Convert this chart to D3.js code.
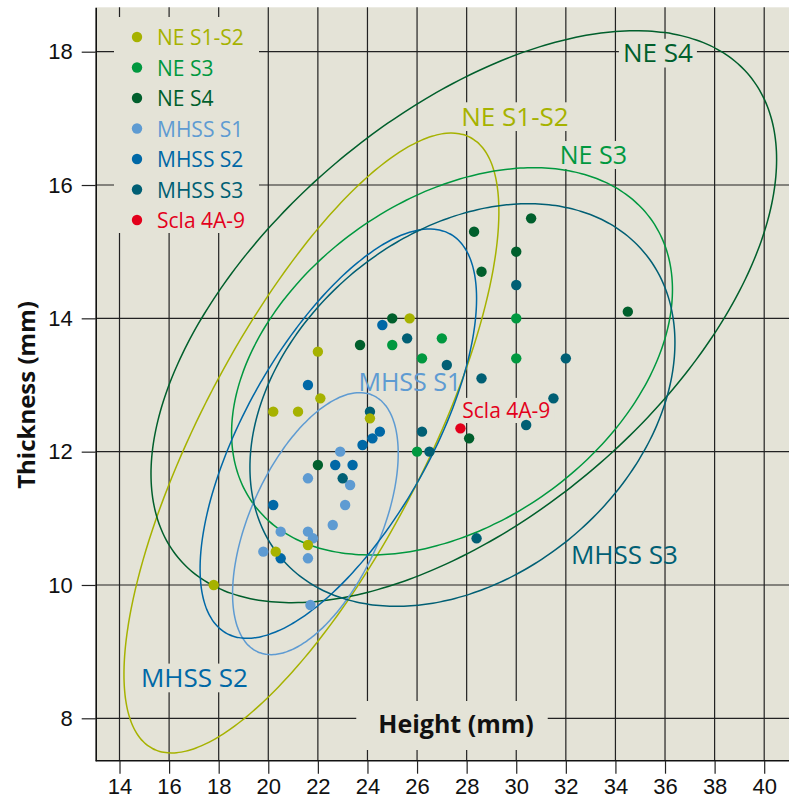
<!DOCTYPE html>
<html><head><meta charset="utf-8">
<script src="https://cdn.jsdelivr.net/npm/d3@7"></script>
<style>body{margin:0;background:#fff} svg{display:block}</style>
</head><body>
<svg id="c" width="794" height="798"></svg>
<script>
// ---------- data ----------
const xTicks = [14,16,18,20,22,24,26,28,30,32,34,36,38,40];
const yTicks = [8,10,12,14,16,18];

const seriesNames  = ["NE S1-S2","NE S3","NE S4","MHSS S1","MHSS S2","MHSS S3","Scla 4A-9"];
const seriesColors = ["#a6b200","#00983f","#005f2c","#5e9bd2","#0068a6","#005f74","#e3001b"];

const neS1S2 = [[17.8,10.0],[20.2,12.6],[21.2,12.6],[22.0,13.5],[22.1,12.8],[24.1,12.5],[25.7,14.0],[21.6,10.6],[20.3,10.5]];
const neS3   = [[25.0,13.6],[27.0,13.7],[26.2,13.4],[30.0,14.0],[30.0,13.4],[26.0,12.0]];
const neS4   = [[22.0,11.8],[25.0,14.0],[23.7,13.6],[28.1,12.2],[30.6,15.5],[28.3,15.3],[30.0,15.0],[28.6,14.7],[34.5,14.1]];
const mhssS1 = [[22.9,12.0],[21.6,11.6],[23.3,11.5],[23.1,11.2],[22.6,10.9],[20.5,10.8],[21.6,10.8],[21.8,10.7],[19.8,10.5],[21.6,10.4],[21.7,9.7]];
const mhssS2 = [[21.6,13.0],[24.5,12.3],[24.2,12.2],[23.8,12.1],[22.7,11.8],[23.4,11.8],[20.2,11.2],[20.5,10.4],[24.6,13.9]];
const mhssS3 = [[24.1,12.6],[23.0,11.6],[25.6,13.7],[27.2,13.3],[28.6,13.1],[26.2,12.3],[26.5,12.0],[30.4,12.4],[30.0,14.5],[32.0,13.4],[31.5,12.8],[28.4,10.7]];
const scla   = [[27.75,12.35]];

// draw order (index into seriesNames) and values
const drawOrder  = [3,4,5,2,1,0,6];
const seriesData = [neS1S2, neS3, neS4, mhssS1, mhssS2, mhssS3, scla];

// ellipses: center, half-extent in x and y, cosine of phase between x and y
const ellipseSeries  = [0,1,2,3,4,5];
const ellipseCenterX = [21.74, 27.41, 27.885, 21.90, 22.825, 27.83];
const ellipseCenterY = [12.13, 13.355, 14.025, 10.92, 12.27, 12.70];
const ellipseHalfX   = [7.56, 8.89, 12.615, 3.34, 5.575, 8.57];
const ellipseHalfY   = [4.65, 2.905, 4.29, 1.965, 3.07, 3.02];
const ellipseCosPhi  = [0.746, 0.37, 0.55, 0.535, 0.66, 0.31];

// in-plot labels (series index, anchor x, anchor y, boxed?)
const labelSeries = [2,0,1,3,4,5,6];
const labelX      = [35.71, 29.95, 33.11, 25.71, 17.02, 34.36, 29.60];
const labelY      = [17.838,16.885,16.315,12.915,8.465,10.315,12.505];
const labelBoxed  = [true,true,true,false,true,false,true];
const labelSize   = [26,26,25,25,26,26,21];

// ---------- chart ----------
const svg = d3.select("#c");
const BG = "#e4e3d7";
const L = 95.7, R = 789, T = 7.3, B = 760.7;
const x = d3.scaleLinear().domain([13.04, 41]).range([L, R]);
const y = d3.scaleLinear().domain([7.364, 18.666]).range([B, T]);
const FONT = "'Open Sans', 'Noto Sans', sans-serif";
const TICKFONT = "'Liberation Sans', Arial, sans-serif";

svg.append("rect").attr("x", L).attr("y", T).attr("width", R - L).attr("height", B - T).attr("fill", BG);

const gGrid = svg.append("g");
const gBox = svg.append("g");
const gEll = svg.append("g");
const gPts = svg.append("g");
const gTxt = svg.append("g");

gGrid.selectAll("line.v").data(xTicks).join("line")
  .attr("x1", d => x(d)).attr("x2", d => x(d)).attr("y1", T).attr("y2", B)
  .attr("stroke", "#222").attr("stroke-width", 1.2);
gGrid.selectAll("line.h").data(yTicks).join("line").attr("class","h")
  .attr("y1", d => y(d)).attr("y2", d => y(d)).attr("x1", L).attr("x2", R)
  .attr("stroke", "#222").attr("stroke-width", 1.2);

// axes
const ax = svg.append("g").attr("transform", `translate(0,${B})`)
  .call(d3.axisBottom(x).tickValues(xTicks).tickSize(13).tickSizeOuter(0).tickPadding(5).tickFormat(d3.format("d")));
const ay = svg.append("g").attr("transform", `translate(${L},0)`)
  .call(d3.axisLeft(y).tickValues(yTicks).tickSize(14).tickSizeOuter(0).tickPadding(9).tickFormat(d3.format("d")));
[ax, ay].forEach(a => {
  a.select(".domain").attr("stroke", "#111").attr("stroke-width", 1.6);
  a.selectAll(".tick line").attr("stroke", "#222").attr("stroke-width", 1.2);
  a.selectAll(".tick text").attr("font-family", TICKFONT).attr("font-size", 22).attr("fill", "#111");
});
ax.select(".domain").attr("d", `M${L},0H${R}`);

// ellipses
const tSteps = d3.range(0, 361, 2).map(d => d * Math.PI / 180);
ellipseSeries.forEach((s, i) => {
  const phi = Math.acos(ellipseCosPhi[i]);
  const pts = tSteps.map(t => [
    x(ellipseCenterX[i] + ellipseHalfX[i] * Math.cos(t)),
    y(ellipseCenterY[i] + ellipseHalfY[i] * Math.cos(t - phi))
  ]);
  gEll.append("path").attr("d", d3.line().curve(d3.curveCardinalClosed)(pts.slice(0, -1)))
    .attr("fill", "none").attr("stroke", seriesColors[s]).attr("stroke-width", 1.5);
});

// points
drawOrder.forEach(s => {
  gPts.selectAll(null).data(seriesData[s]).join("circle")
    .attr("cx", d => x(d[0])).attr("cy", d => y(d[1])).attr("r", 5.2)
    .attr("fill", seriesColors[s]);
});

// in-plot labels
labelSeries.forEach((s, i) => {
  const fs = labelSize[i];
  const t = gTxt.append("text").attr("x", x(labelX[i])).attr("y", y(labelY[i]))
    .attr("text-anchor", "middle").attr("font-family", FONT).attr("font-size", fs)
    .attr("fill", seriesColors[s]).text(seriesNames[s]);
  if (labelBoxed[i]) {
    const bb = t.node().getBBox();
    const cap = 0.72 * fs;
    gBox.append("rect").attr("x", bb.x - 4).attr("width", bb.width + 8)
      .attr("y", y(labelY[i]) - cap - 5).attr("height", cap + 10).attr("fill", BG);
  }
});

// axis titles
const ht = gTxt.append("text").attr("x", 456).attr("y", 733).attr("text-anchor", "middle")
  .attr("font-family", FONT).attr("font-weight", 700).attr("font-size", 25).attr("fill", "#111")
  .text("Height (mm)");
{
  const bb = ht.node().getBBox();
  gBox.append("rect").attr("x", bb.x - 22).attr("width", bb.width + 36)
    .attr("y", 701).attr("height", 49).attr("fill", BG);
}
svg.append("text").attr("transform", "translate(35,395) rotate(-90)").attr("text-anchor", "middle")
  .attr("font-family", FONT).attr("font-weight", 700).attr("font-size", 24).attr("fill", "#111")
  .text("Thickness (mm)");

// legend
gBox.append("rect").attr("x", 114).attr("y", 17).attr("width", 145).attr("height", 216).attr("fill", BG);
const lg = gTxt.append("g");
seriesNames.forEach((n, i) => {
  const cy = 37 + i * 30.5;
  lg.append("circle").attr("cx", 137).attr("cy", cy).attr("r", 5.2).attr("fill", seriesColors[i]);
  lg.append("text").attr("x", 157).attr("y", cy + 8).attr("font-family", FONT).attr("font-size", 21)
    .attr("fill", seriesColors[i]).text(n);
});
</script>
</body></html>
